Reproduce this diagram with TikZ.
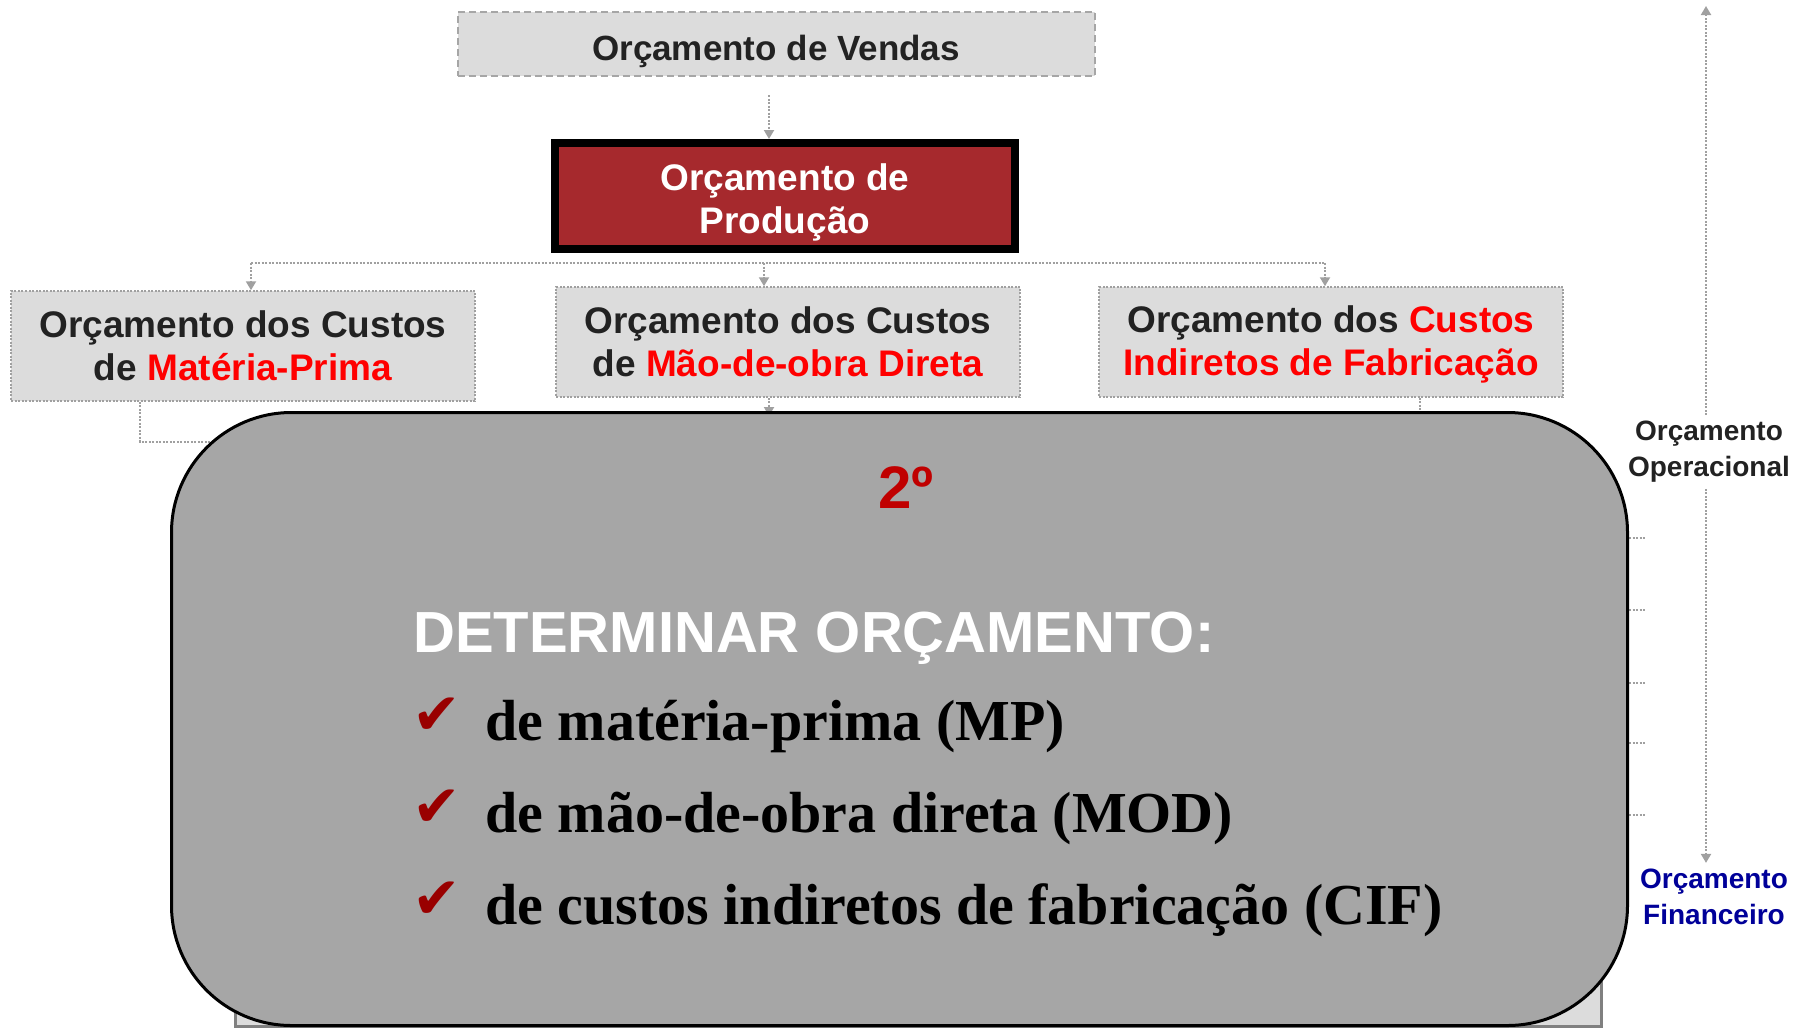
\documentclass[tikz,border=0pt]{standalone}
\usepackage{fontspec}
\setmainfont{Liberation Sans}
\newfontfamily\itemfont{Liberation Serif}
\newfontfamily\checkfont{DejaVu Sans}
\usetikzlibrary{arrows.meta,shadows}

\definecolor{boxgray}{HTML}{DCDCDC}
\definecolor{linegray}{HTML}{A0A0A0}
\definecolor{prodred}{HTML}{A6292D}
\definecolor{txtdark}{HTML}{222222}
\definecolor{stepgray}{HTML}{A6A6A6}
\definecolor{darkred}{HTML}{C00000}
\definecolor{checkred}{HTML}{990000}
\definecolor{finblue}{HTML}{000099}

\tikzset{
  link/.style={draw=linegray, line width=2pt, dash pattern=on 2pt off 1.5pt},
  arr/.style={link, -{Triangle[width=10pt,length=9pt]}},
  budget/.style={draw=linegray, fill=boxgray, line width=1.5pt, dash pattern=on 2pt off 1.5pt,
    minimum width=464, minimum height=110, align=center, text=txtdark,
    font=\fontsize{37}{43}\selectfont\bfseries},
  side/.style={align=center, inner sep=6pt, text=txtdark, font=\fontsize{28}{36}\selectfont\bfseries},
  stepbox/.style={draw=black, fill=stepgray, line width=3pt, rounded corners=120,
    minimum width=1456, minimum height=613},
  check/.style={anchor=base west, inner sep=0pt, text=checkred, font=\checkfont\fontsize{58}{58}\selectfont},
  item/.style={anchor=base west, inner sep=0pt, font=\itemfont\fontsize{58}{58}\selectfont\bfseries}
}

\begin{document}
\begin{tikzpicture}[x=1pt,y=-1pt]
\useasboundingbox (0,0) rectangle (1799,1029);

\node[draw=stepgray, fill=boxgray, line width=2pt, dash pattern=on 7pt off 4pt,
  minimum width=637, minimum height=64, text height=32pt, text depth=0pt, text=txtdark,
  font=\fontsize{35}{40}\selectfont\bfseries] (vendas) at (776,44) {Orçamento de Vendas};

\node[draw=black, fill=prodred, line width=8pt, minimum width=460, minimum height=106,
  align=center, text=white, font=\fontsize{37}{43}\selectfont\bfseries,
  drop shadow={shadow xshift=4pt, shadow yshift=-4pt, fill=black!45, opacity=1}]
  (producao) at (785,196) {\rule{0pt}{39pt}Orçamento de\\Produção};

\node[budget] (mp) at (243,346) {Orçamento dos Custos\\de \textcolor{red}{Matéria-Prima}};
\node[budget] (mod) at (788,342) {Orçamento dos Custos\\de \textcolor{red}{Mão-de-obra Direta}};
\node[budget] (cif) at (1331,342) {\rule{0pt}{31pt}Orçamento dos \textcolor{red}{Custos}\\\textcolor{red}{Indiretos de Fabricação}};

\coordinate (va) at (769,95);
\draw[arr] (va) -- (va |- producao.north);

\coordinate (ha) at (251,263);
\coordinate (hb) at (764,263);
\coordinate (hc) at (1325,263);
\draw[link] (ha) -- (hc);
\draw[arr] (ha) -- (ha |- mp.north);
\draw[arr] (hb) -- (hb |- mod.north);
\draw[arr] (hc) -- (hc |- cif.north);

\coordinate (mpout) at (140,442);
\coordinate (modout) at (769,416);
\coordinate (cifout) at (1420,416);
\draw[link] (mpout |- mp.south) -- (mpout) -- ++(120,0);
\draw[arr] (modout |- mod.south) -- (modout);
\draw[link] (cifout |- cif.south) -- (cifout);

\foreach \yy in {538,610,683,743,815}
  \draw[link] (1622,\yy) -- (1645,\yy);

\draw[draw=black!50, fill=boxgray, line width=3pt] (235,850) rectangle (1601,1026);

\node[stepbox] (passo) at (899.5,719) {};
\node[text=darkred, font=\fontsize{60}{60}\selectfont\bfseries] (ordem) at (906,488) {2º};
\node[anchor=base west, inner sep=0pt, text=white, font=\fontsize{58}{58}\selectfont\bfseries]
  (titulo) at (413,652) {DETERMINAR ORÇAMENTO:};

\node[check] (c1) at (412,734) {✔};
\node[check] (c2) at (412,826) {✔};
\node[check] (c3) at (412,918) {✔};
\node[item] (i1) at (485,740) {de matéria-prima (MP)};
\node[item] (i2) at (485,832) {de mão-de-obra direta (MOD)};
\node[item] (i3) at (485,924) {de custos indiretos de fabricação (CIF)};

\node[side] (oper) at (1709,452) {Orçamento\\Operacional};
\node[side, text=finblue] (fin) at (1714,897) {Orçamento\\Financeiro};
\coordinate (topo) at (1706,6);
\draw[arr] (topo |- oper.north) -- (topo);
\draw[arr] (topo |- oper.south) -- (topo |- fin.north);
\end{tikzpicture}
\end{document}
